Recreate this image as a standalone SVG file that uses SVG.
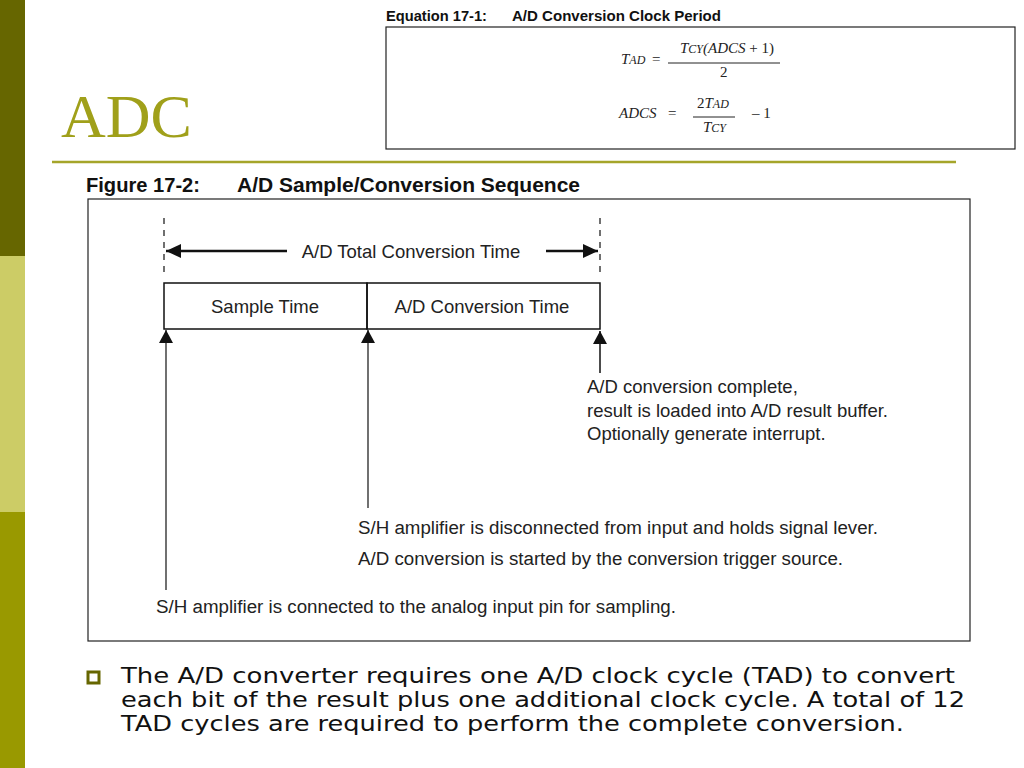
<svg xmlns="http://www.w3.org/2000/svg" width="1024" height="768" viewBox="0 0 1024 768">
<style>
.h{font-family:"Liberation Sans",Arial,sans-serif;font-weight:bold;fill:#111}
.t{font-family:"Liberation Sans",Arial,sans-serif;font-size:18.5px;fill:#222}
.c{font-family:"Liberation Sans",Arial,sans-serif;font-size:18px;fill:#222}
.m{font-family:"Liberation Serif","Times New Roman",serif;font-size:15px;fill:#222;font-style:italic}
.mn{font-family:"Liberation Serif","Times New Roman",serif;font-size:15px;fill:#222}
.ln{stroke:#111;fill:none}
.dash{stroke:#111;stroke-width:1.2;stroke-dasharray:6 6}
.b{font-family:"DejaVu Sans",Verdana,sans-serif;font-size:20.5px;fill:#111}
</style>
<defs>
<marker id="ah" markerWidth="16" markerHeight="14" refX="15" refY="7" orient="auto" markerUnits="userSpaceOnUse">
<path d="M0,0 L15,7 L0,14 z" fill="#111"/>
</marker>
<marker id="au" markerWidth="14" markerHeight="14" refX="13" refY="7" orient="auto" markerUnits="userSpaceOnUse">
<path d="M0,0 L13,7 L0,14 z" fill="#111"/>
</marker>
</defs>
<rect width="1024" height="768" fill="#fff"/>
<rect x="0" y="0" width="25" height="256" fill="#666600"/>
<rect x="0" y="256" width="25" height="256" fill="#CCCC66"/>
<rect x="0" y="512" width="25" height="256" fill="#999900"/>
<text x="61" y="137" font-family="Liberation Serif,'Times New Roman',serif" font-size="62" fill="#A0A01A">ADC</text>
<line x1="52" y1="162" x2="956" y2="162" stroke="#A5A52A" stroke-width="2.5"/>

<g id="equation">
<text class="h" x="386" y="21" font-size="15" textLength="101" lengthAdjust="spacingAndGlyphs">Equation 17-1:</text>
<text class="h" x="512" y="21" font-size="15" textLength="209" lengthAdjust="spacingAndGlyphs">A/D Conversion Clock Period</text>
<rect x="386" y="27" width="629" height="122" fill="none" stroke="#222" stroke-width="1.2"/>
<text class="m" x="621" y="64">T<tspan font-size="12">AD</tspan></text>
<text class="mn" x="652" y="64">=</text>
<text class="m" x="680" y="53">T<tspan font-size="12">CY</tspan>(ADCS<tspan font-style="normal"> + 1)</tspan></text>
<line x1="668" y1="63" x2="780" y2="63" stroke="#222" stroke-width="1"/>
<text class="mn" x="720" y="77">2</text>
<text class="m" x="619" y="118">ADCS</text>
<text class="mn" x="668" y="118">=</text>
<text class="m" x="697" y="108"><tspan font-style="normal">2</tspan>T<tspan font-size="12">AD</tspan></text>
<line x1="693" y1="117" x2="735" y2="117" stroke="#222" stroke-width="1"/>
<text class="m" x="703" y="132">T<tspan font-size="12">CY</tspan></text>
<text class="mn" x="752" y="118">– 1</text>
</g>

<g id="figure">
<text class="h" x="86" y="192" font-size="20" textLength="114" lengthAdjust="spacingAndGlyphs">Figure 17-2:</text>
<text class="h" x="237" y="192" font-size="20" textLength="343" lengthAdjust="spacingAndGlyphs">A/D Sample/Conversion Sequence</text>
<rect x="88" y="199" width="882" height="442" fill="none" stroke="#222" stroke-width="1.2"/>
</g>

<g id="total-time">
<line class="dash" x1="164" y1="218" x2="164" y2="276"/>
<line class="dash" x1="600" y1="218" x2="600" y2="276"/>
<text class="t" x="411" y="258" text-anchor="middle">A/D Total Conversion Time</text>
</g>

<g id="sample-time">
<rect x="164" y="283" width="203" height="46" fill="none" stroke="#111" stroke-width="1.5"/>
<text class="t" x="265" y="313" text-anchor="middle">Sample Time</text>
</g>
<g id="conversion-time">
<rect x="367" y="283" width="233" height="46" fill="none" stroke="#111" stroke-width="1.5"/>
<text class="t" x="482" y="313" text-anchor="middle">A/D Conversion Time</text>
</g>

<g id="note-complete">
<text class="t" x="587" y="393">A/D conversion complete,</text>
<text class="t" x="587" y="417">result is loaded into A/D result buffer.</text>
<text class="t" x="587" y="440">Optionally generate interrupt.</text>
</g>
<g id="note-disconnect">
<text class="c" x="358" y="534" textLength="520" lengthAdjust="spacingAndGlyphs">S/H amplifier is disconnected from input and holds signal lever.</text>
<text class="c" x="358" y="565" textLength="485" lengthAdjust="spacingAndGlyphs">A/D conversion is started by the conversion trigger source.</text>
</g>
<g id="note-connect">
<text class="c" x="156" y="613" textLength="520" lengthAdjust="spacingAndGlyphs">S/H amplifier is connected to the analog input pin for sampling.</text>
</g>

<g id="connectors">
<line class="ln" x1="287" y1="251" x2="166" y2="251" marker-end="url(#ah)" stroke-width="2.5"/>
<line class="ln" x1="546" y1="251" x2="598" y2="251" marker-end="url(#ah)" stroke-width="2.5"/>
<line class="ln" x1="166" y1="590" x2="166" y2="330" marker-end="url(#au)" stroke-width="1.2"/>
<line class="ln" x1="368" y1="508" x2="368" y2="330" marker-end="url(#au)" stroke-width="1.2"/>
<line class="ln" x1="600" y1="373" x2="600" y2="331" marker-end="url(#au)" stroke-width="1.5"/>
</g>

<rect x="88" y="672" width="11" height="11" fill="none" stroke="#666600" stroke-width="3"/>
<text class="b" x="121" y="683" textLength="834" lengthAdjust="spacingAndGlyphs">The A/D converter requires one A/D clock cycle (TAD) to convert</text>
<text class="b" x="121" y="707" textLength="844" lengthAdjust="spacingAndGlyphs">each bit of the result plus one additional clock cycle. A total of 12</text>
<text class="b" x="121" y="731" textLength="783" lengthAdjust="spacingAndGlyphs">TAD cycles are required to perform the complete conversion.</text>
</svg>
